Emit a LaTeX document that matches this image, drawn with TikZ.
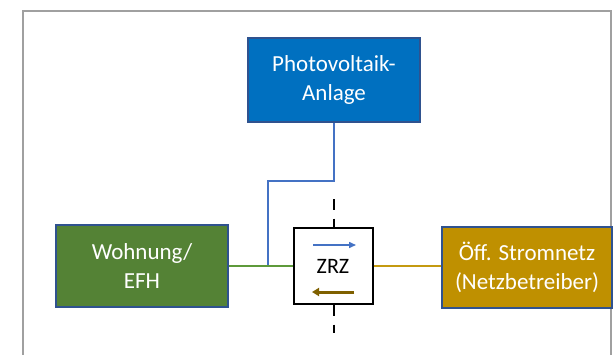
\documentclass[tikz,border=0pt]{standalone}
\usepackage{fontspec}
\setmainfont{Carlito}
\usetikzlibrary{arrows.meta}
\definecolor{pvblue}{HTML}{0070C0}
\definecolor{edgeblue}{HTML}{2F528F}
\definecolor{wogreen}{HTML}{548235}
\definecolor{netgold}{HTML}{BF9000}
\definecolor{lineblue}{HTML}{4472C4}
\definecolor{linegreen}{HTML}{5E9A3A}
\definecolor{linegold}{HTML}{C49A10}
\definecolor{arrbrown}{HTML}{7F6000}
\definecolor{framegray}{HTML}{A0A0A0}
\begin{document}
\begin{tikzpicture}[x=1pt,y=-1pt,
  box/.style={draw=edgeblue, line width=1.5pt, text=white, align=center,
    font=\fontsize{23}{28.5}\selectfont, inner sep=0pt},
  conn/.style={line width=2pt},
  dashline/.style={line width=2pt, dash pattern=on 10.5pt off 9pt}]
\useasboundingbox (0,0) rectangle (613,354);
\draw[framegray, line width=2pt] (23,360) -- (23,11) -- (611,11) -- (611,360);
\node[box, fill=pvblue, minimum width=172pt, minimum height=84pt] (pv) at (334,80) {Photovoltaik-\\Anlage};
\node[box, fill=wogreen, minimum width=172pt, minimum height=82pt] (wo) at (142,266) {Wohnung/\\EFH};
\node[box, fill=netgold, minimum width=170pt, minimum height=81pt] (net) at (527,267.5) {Öff. Stromnetz\\(Netzbetreiber)};
\node[draw=black, fill=white, line width=2pt, minimum width=79pt, minimum height=76pt,
  font=\fontsize{22}{26}\selectfont] (zrz) at (333,266) {ZRZ};
\coordinate (bend) at (268,181);
\coordinate (tee) at (268,266);
\draw[conn, lineblue] (pv.south) |- (bend) -- (tee);
\draw[conn, linegreen] (wo.east) -- (zrz.west);
\draw[conn, linegold] (zrz.east) -- (zrz.east -| net.west);
\coordinate (dtop) at (334,199);
\coordinate (dbot) at (334,333);
\draw[dashline] (dtop) -- (dtop |- zrz.north);
\draw[dashline] (dbot |- zrz.south) -- (dbot);
\coordinate (ba) at (313,245);
\coordinate (bb) at (356,245);
\coordinate (ga) at (354,292);
\coordinate (gb) at (312,292);
\draw[lineblue, line width=1.5pt, -{Triangle[length=7pt,width=6pt]}] (ba) -- (bb);
\draw[arrbrown, line width=3pt, -{Triangle[length=7pt,width=8pt]}] (ga) -- (gb);
\end{tikzpicture}
\end{document}
